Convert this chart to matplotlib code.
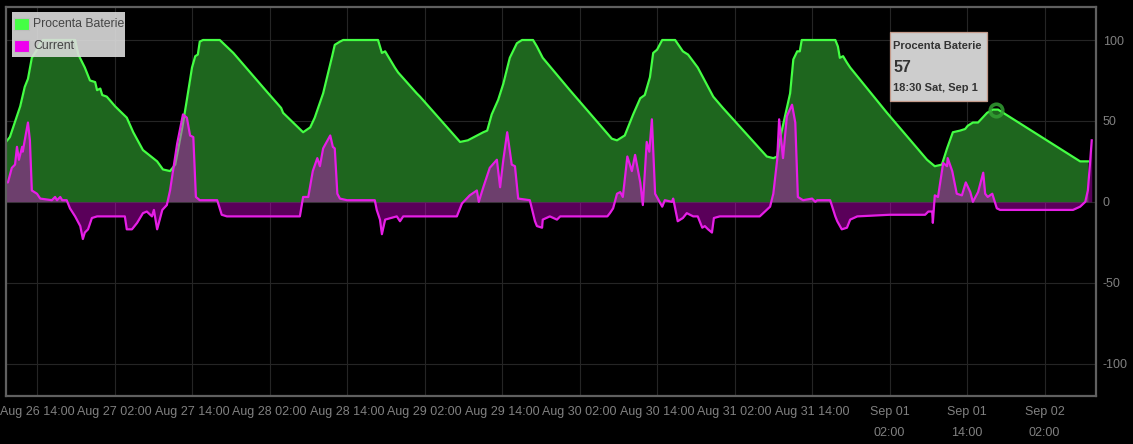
import matplotlib
matplotlib.use("Agg")
import matplotlib.pyplot as plt
import matplotlib.dates as mdates
from matplotlib.patches import Rectangle
from datetime import datetime, timedelta

plt.rcParams["font.family"] = ["Liberation Sans", "DejaVu Sans"]
plt.rcParams["axes.unicode_minus"] = False

# ---------------- data ----------------
START = datetime(2018, 8, 26, 14, 0)   # hour offsets are relative to this

battery_hours = [
    -4.8, -4.2, -2.6, -1.9, -1.4, -0.8, 0.0, 0.5, 0.9, 5.9, 6.4, 7.4, 8.2, 9.0, 9.3,
    9.8, 10.1, 10.8, 12.1, 13.9, 14.9, 16.4, 18.6, 19.5, 20.6, 21.4, 22.5, 23.2, 24.0,
    24.5, 24.9, 25.2, 25.7, 28.3, 30.4, 35.6, 37.8, 38.1, 41.2, 42.3, 43.0, 44.3, 45.7,
    46.1, 46.9, 47.4, 52.8, 53.1, 53.4, 53.9, 55.4, 55.9, 58.8, 59.3, 62.4, 65.5, 66.7,
    69.1, 69.7, 70.4, 71.4, 72.2, 73.2, 74.3, 75.1, 76.8, 77.4, 78.3, 82.5, 89.0, 89.8,
    90.6, 91.0, 92.3, 93.4, 94.1, 94.9, 95.4, 96.0, 96.8, 98.8, 100.0, 100.8, 102.3,
    104.7, 106.2, 113.0, 114.0, 114.6, 115.2, 116.6, 117.1, 117.7, 118.1, 118.4, 123.6,
    124.0, 124.3, 124.8, 125.4, 125.9, 131.6, 137.8, 139.0, 140.1, 140.9, 141.8, 142.9,
    143.7, 144.1, 144.9, 145.7, 147.1, 148.0, 148.8, 161.5, 162.7,
]
battery_pct = [
    37, 40, 59, 71, 76, 89, 94, 98, 100, 100, 91, 83, 75, 74, 69,
    70, 66, 65, 59, 52, 43, 32, 25, 20, 19, 23, 46, 63, 83,
    90, 91, 99, 100, 100, 92, 68, 58, 55, 43, 46, 52, 67, 90,
    97, 99, 100, 100, 96, 92, 93, 83, 80, 67, 65, 51, 37, 38,
    43, 44, 54, 63, 73, 89, 98, 100, 100, 96, 89, 69, 39, 38,
    40, 41, 54, 64, 66, 77, 92, 94, 100, 100, 93, 91, 83,
    65, 58, 28, 27, 28, 42, 67, 88, 93, 93, 100, 100,
    96, 89, 90, 86, 83, 55, 26, 22, 23, 33, 43, 44,
    45, 47, 49, 49, 55, 57, 57, 25, 25,
]

current_hours = [
    -4.8, -4.5, -3.9, -3.4, -3.1, -2.8, -2.3, -2.2, -1.9, -1.4, -1.1, -0.8, 0.0, 0.5,
    2.3, 2.8, 3.1, 3.6, 3.9, 4.6, 5.1, 5.9, 6.7, 7.1, 7.4, 7.9, 8.5, 9.3, 13.6, 13.9,
    14.7, 15.5, 16.4, 17.0, 17.8, 18.1, 18.6, 19.4, 20.1, 20.6, 21.7, 22.6, 23.2, 23.7,
    24.2, 24.6, 25.2, 27.9, 28.6, 29.4, 40.7, 41.2, 42.0, 42.7, 43.4, 43.8, 44.3, 45.4,
    45.8, 46.1, 46.5, 46.9, 48.0, 52.3, 52.6, 53.1, 53.4, 53.9, 55.7, 56.2, 56.7, 65.0,
    65.8, 67.0, 68.1, 68.4, 69.1, 70.1, 71.2, 71.7, 72.2, 72.8, 73.5, 74.0, 74.5, 76.3,
    77.1, 77.4, 78.2, 78.3, 79.4, 80.5, 81.0, 88.3, 88.7, 89.2, 89.8, 90.3, 90.7, 91.4,
    92.1, 92.6, 93.4, 93.8, 94.4, 94.8, 95.2, 95.7, 96.8, 97.2, 98.3, 98.5, 99.2, 100.0,
    100.6, 101.6, 102.3, 103.0, 103.4, 103.9, 104.5, 104.8, 105.7, 111.9, 113.5, 114.0,
    114.6, 114.9, 115.5, 116.1, 116.9, 117.4, 117.8, 118.6, 120.0, 120.5, 120.8, 122.8,
    123.6, 123.9, 124.6, 125.4, 125.9, 127.0, 132.0, 137.5, 138.0, 138.6, 138.7, 139.0,
    139.5, 140.3, 140.9, 141.0, 141.7, 142.4, 143.2, 143.8, 144.5, 144.9, 145.7, 146.5,
    146.8, 147.2, 147.9, 148.6, 149.1, 160.4, 161.5, 162.3, 162.7, 163.0, 163.3,
]
current_vals = [
    12, 12, 21, 23, 34, 26, 34, 31, 38, 49, 38, 7, 5, 2,
    1, 3, 1, 3, 1, 1, -4, -9, -15, -23, -19, -17, -10, -9, -9, -17,
    -17, -13, -7, -6, -9, -5, -17, -5, -2, 7, 36, 54, 52, 41,
    40, 3, 1, 1, -8, -9, -9, 3, 3, 19, 27, 22, 33, 41,
    34, 33, 5, 2, 1, 1, -5, -11, -20, -11, -9, -12, -9, -9,
    -1, 4, 7, 0, 9, 21, 26, 9, 26, 43, 23, 22, 2, 1,
    -12, -15, -16, -11, -9, -11, -9, -9, -7, -4, 5, 6, 3, 28,
    19, 29, 12, -2, 37, 31, 51, 5, -3, 1, 0, 2, -12, -10,
    -7, -9, -9, -16, -15, -17, -19, -10, -9, -9, -3, 5,
    26, 51, 27, 53, 60, 49, 3, 1, 2, 0, 1, 1,
    -9, -12, -17, -16, -11, -9, -8, -8, -6, -6, -13, 4,
    3, 24, 22, 27, 19, 5, 4, 12, 6, 0, 6, 18,
    5, 3, 5, -4, -5, -5, -3, 0, 7, 22, 38,
]

series_names = ["Procenta Baterie", "Current"]
tick_hours = [0, 12, 24, 36, 48, 60, 72, 84, 96, 108, 120, 132, 144, 156]
tick_labels = [
    "Aug 26 14:00", "Aug 27 02:00", "Aug 27 14:00", "Aug 28 02:00", "Aug 28 14:00",
    "Aug 29 02:00", "Aug 29 14:00", "Aug 30 02:00", "Aug 30 14:00", "Aug 31 02:00",
    "Aug 31 14:00", "Sep 01\n02:00", "Sep 01\n14:00", "Sep 02\n02:00",
]
y_ticks = [-100, -50, 0, 50, 100]
tooltip_hour = 148.5
tooltip_value = 57
tooltip_time = "18:30 Sat, Sep 1"

# ---------------- figure ----------------
W, H = 1133, 444
fig = plt.figure(figsize=(W / 100, H / 100), dpi=100, facecolor="#000000")


def fx(x):
    return x / W


def fy(y):
    return 1 - y / H


ax = fig.add_axes([fx(6), fy(396), (1096 - 6) / W, (396 - 7) / H])
ax.set_facecolor("#000000")


def to_dt(hours):
    return [START + timedelta(hours=h) for h in hours]


bt = mdates.date2num(to_dt(battery_hours))
ct = mdates.date2num(to_dt(current_hours))

GREEN = "#44ff44"
MAGENTA = "#e61ee6"

ax.fill_between(bt, 0, battery_pct, color="#1e661e", lw=0, zorder=2)
ax.plot(bt, battery_pct, color=GREEN, lw=1.6, zorder=3, solid_joinstyle="round")
ax.fill_between(ct, 0, current_vals, color="#ee00ee", alpha=0.38, lw=0, zorder=4)
ax.plot(ct, current_vals, color=MAGENTA, lw=1.6, zorder=5, solid_joinstyle="round")

# hover marker
tt = mdates.date2num(to_dt([tooltip_hour]))
ax.plot(tt, [tooltip_value], marker="o", ms=9, mfc="none", mec="#33a033",
        mew=2.6, alpha=0.85, zorder=6)

ax.set_xlim(mdates.date2num(START + timedelta(hours=-4.8)),
            mdates.date2num(START + timedelta(hours=163.96)))
ax.set_ylim(-120, 120.4)

ax.set_xticks(mdates.date2num(to_dt(tick_hours)))
ax.set_xticklabels(tick_labels, linespacing=2.0)
ax.set_yticks(y_ticks)
ax.yaxis.tick_right()

ax.grid(True, color="#252525", lw=0.8, zorder=0)
ax.set_axisbelow(True)
ax.tick_params(axis="both", length=0, labelcolor="#808080", labelsize=9)
ax.tick_params(axis="x", pad=7.5)
ax.tick_params(axis="y", pad=5)

for s in ax.spines.values():
    s.set_color("#606060")
    s.set_linewidth(1.6)
    s.set_zorder(10)

# legend (drawn in figure pixel coordinates)
fig.add_artist(Rectangle((fx(12), fy(57)), 113 / W, 45 / H, transform=fig.transFigure,
                         facecolor="#dcdcdc", alpha=0.9, edgecolor="none", zorder=20))
for i, (name, col) in enumerate(zip(series_names, ["#44ff44", "#ee00ee"])):
    ytop = 18 + 22 * i
    fig.add_artist(Rectangle((fx(14), fy(ytop + 12)), 15 / W, 12 / H,
                             transform=fig.transFigure, facecolor=col,
                             edgecolor="#bdbdbd", lw=0.8, zorder=21))
    fig.text(fx(33), fy(ytop + 6), name, ha="left", va="center",
             fontsize=8.8, color="#444444", zorder=22)

# tooltip
fig.add_artist(Rectangle((fx(890), fy(101)), 97 / W, 69 / H, transform=fig.transFigure,
                         facecolor="#cdcdcd", edgecolor="#c49a8a", lw=0.9, zorder=20))
fig.text(fx(893), fy(46), series_names[0], ha="left", va="center", fontsize=8,
         fontweight="bold", color="#333333", zorder=21)
fig.text(fx(893), fy(67), str(tooltip_value), ha="left", va="center", fontsize=11.5,
         fontweight="bold", color="#333333", zorder=21)
fig.text(fx(893), fy(88), tooltip_time, ha="left", va="center", fontsize=8,
         fontweight="bold", color="#333333", zorder=21)

fig.savefig("out.png", dpi=100, facecolor=fig.get_facecolor())
